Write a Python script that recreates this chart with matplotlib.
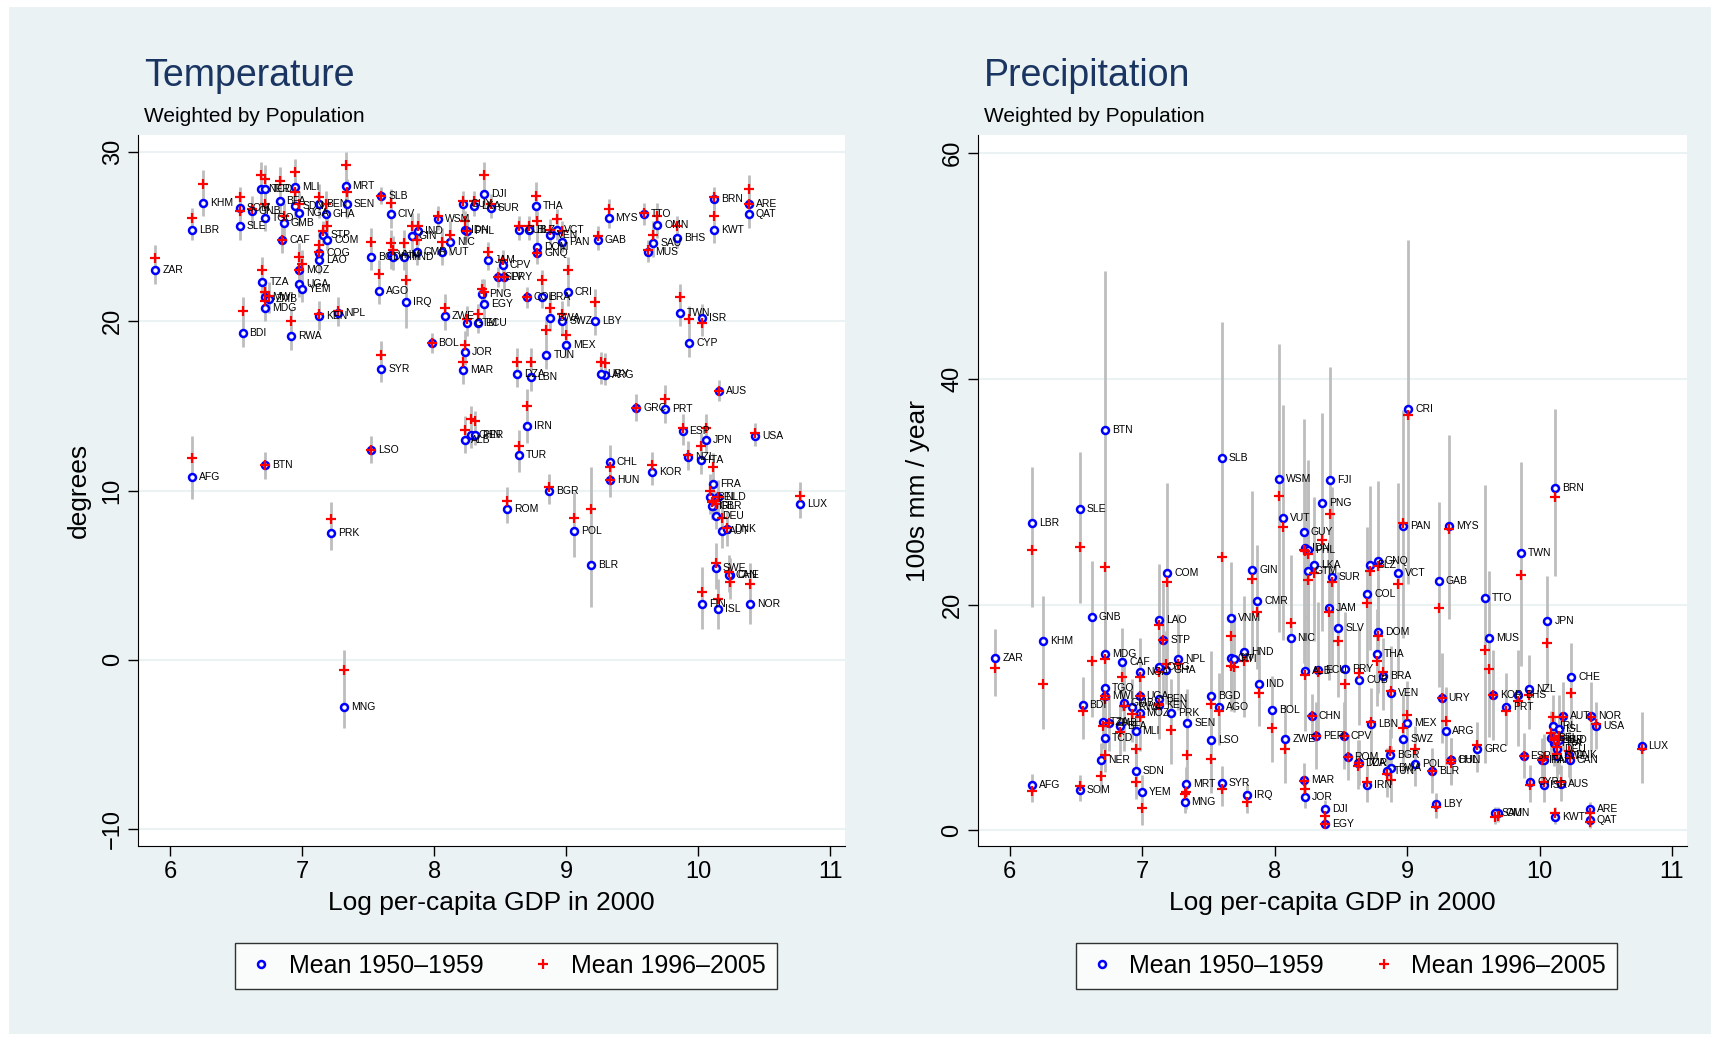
import numpy as np
import matplotlib
matplotlib.use("Agg")
import matplotlib.pyplot as plt
from matplotlib.lines import Line2D

plt.rcParams["font.family"] = ["Liberation Sans", "DejaVu Sans"]

nan = np.nan
codes = ["ZAR","LBR","AFG","KHM","SLE","SOM","BDI","GNB","NER","TCD",
 "TZA","MWI","ZMB","MDG","TGO","BTN","RWA","BFA","MLI","GMB",
 "CAF","MOZ","UGA","YEM","SDN","NGA","BEN","GHA","STP","COM",
 "COG","LAO","KEN","NPL","PRK","MRT","SEN","MNG","LSO","SLB",
 "CIV","AGO","SYR","BGD","VNM","HTI","HND","IRQ","GIN","IND",
 "CMR","ZWE","BOL","WSM","NIC","VUT","JOR","MAR","GTM","ECU",
 "PNG","EGY","IDN","PHL","GUY","LKA","SUR","DJI","JAM","CPV",
 "SLV","PRY","ALB","CHN","PER","DZA","LBN","TUR","IRN","ROM",
 "COL","BRA","CRI","BWA","SWZ","LBY","MEX","TUN","BGR","POL",
 "BLR","THA","CUB","BLZ","DOM","GNQ","VEN","VCT","PAN","GAB",
 "MYS","TTO","OMN","SAU","MUS","BHS","ARG","URY","CHL","HUN",
 "GRC","PRT","KOR","ESP","NZL","ITA","JPN","TWN","ISR","CYP",
 "AUS","USA","FRA","BEL","NLD","CHE","GBR","IRL","DEU","AUT",
 "DNK","SWE","FIN","ISL","CAN","NOR","LUX","BRN","KWT","ARE",
 "QAT","FJI"]
gdp = [5.89,6.17,6.17,6.25,6.53,6.53,6.55,6.62,6.69,6.72,
 6.70,6.72,6.75,6.72,6.72,6.72,6.92,6.83,6.95,6.86,
 6.85,6.98,6.98,7.00,6.95,6.98,7.13,7.18,7.16,7.19,
 7.13,7.13,7.13,7.27,7.22,7.33,7.34,7.32,7.52,7.60,
 7.67,7.58,7.60,7.52,7.67,7.69,7.77,7.79,7.83,7.88,
 7.87,8.08,7.98,8.03,8.12,8.06,8.23,8.22,8.25,8.33,
 8.36,8.38,8.23,8.25,8.22,8.30,8.43,8.38,8.41,8.52,
 8.48,8.53,8.23,8.28,8.31,8.63,8.73,8.64,8.70,8.55,
 8.70,8.82,9.01,8.88,8.97,9.22,9.00,8.85,8.87,9.06,
 9.19,8.77,8.64,8.72,8.78,8.78,8.88,8.93,8.97,9.24,
 9.32,9.59,9.69,9.66,9.62,9.84,9.29,9.26,9.33,9.33,
 9.53,9.75,9.65,9.88,9.92,10.02,10.06,9.86,10.03,9.93,
 10.16,10.43,10.11,10.09,10.15,10.24,10.11,10.10,10.13,10.18,
 10.22,10.13,10.03,10.15,10.23,10.39,10.77,10.12,10.12,10.38,
 10.38,8.42]
temp_1950s = [23.0,25.4,10.8,27.0,25.6,26.7,19.3,26.5,27.8,27.8,
 22.3,21.4,21.3,20.8,26.1,11.5,19.1,27.1,27.9,25.8,
 24.8,23.0,22.2,21.9,26.8,26.4,26.9,26.3,25.1,24.8,
 24.0,23.6,20.3,20.5,7.5,28.0,26.9,-2.8,12.4,27.4,
 26.3,21.8,17.2,23.8,23.9,23.8,23.8,21.1,25.0,25.3,
 24.1,20.3,18.7,26.0,24.7,24.1,18.2,17.1,19.9,19.9,
 21.6,21.0,25.4,25.3,26.9,26.8,26.7,27.5,23.6,23.3,
 22.6,22.6,13.0,13.3,13.3,16.9,16.7,12.1,13.8,8.9,
 21.4,21.4,21.7,20.2,20.0,20.0,18.6,18.0,10.0,7.6,
 5.6,26.8,25.4,25.4,24.4,24.0,25.1,25.4,24.7,24.8,
 26.1,26.3,25.7,24.6,24.1,24.9,16.8,16.9,11.7,10.6,
 14.9,14.8,11.1,13.5,12.0,11.8,13.0,20.5,20.2,18.7,
 15.9,13.2,10.4,9.6,9.6,5.0,9.1,9.1,8.5,7.6,
 7.7,5.4,3.3,3.0,5.0,3.3,9.2,27.2,25.4,26.9,
 26.3,nan]
temp_1996_2005 = [23.7,26.1,11.9,28.1,26.5,27.3,20.6,26.6,28.6,28.4,
 23.0,21.7,21.5,21.2,26.9,11.5,20.0,28.3,28.8,26.2,
 24.8,23.8,23.0,23.4,27.6,26.9,27.3,26.9,25.3,25.6,
 24.5,24.1,20.4,20.6,8.3,29.2,27.6,-0.6,12.4,27.4,
 27.0,22.8,18.0,24.7,24.6,24.2,24.6,22.4,25.6,25.6,
 24.8,20.8,18.7,26.2,25.1,24.7,18.6,17.6,20.1,20.4,
 21.9,21.7,25.9,25.3,27.1,27.1,26.9,28.6,24.1,23.6,
 22.6,22.6,13.6,14.2,14.1,17.6,17.6,12.6,15.0,9.4,
 21.4,22.4,23.0,20.8,20.4,21.1,19.2,19.5,10.2,8.4,
 8.9,27.4,25.6,25.6,25.9,24.0,25.4,26.0,25.3,25.0,
 26.6,26.4,26.2,25.1,24.2,25.6,17.5,17.6,11.4,10.6,
 14.9,15.4,11.5,13.7,12.1,12.6,13.7,21.4,19.9,20.1,
 15.9,13.4,11.4,10.0,9.6,4.6,9.4,9.3,9.2,8.4,
 7.8,5.7,4.0,3.6,5.2,4.5,9.7,27.3,26.2,27.8,
 26.9,nan]
temp_spread = [0.8,0.6,1.3,0.8,0.8,0.6,0.8,0.8,0.8,0.8,
 0.8,0.8,0.8,0.8,0.8,0.8,0.8,0.8,0.8,0.8,
 0.8,0.8,0.8,0.8,0.8,0.8,0.8,0.8,0.6,0.6,
 0.8,0.8,0.8,0.8,1.0,0.8,0.8,1.2,0.8,0.5,
 0.8,0.8,0.8,0.8,0.8,0.8,0.8,1.5,0.8,0.8,
 0.8,0.8,0.6,0.6,0.8,0.8,0.8,0.8,0.8,0.6,
 0.6,0.8,0.6,0.6,0.6,0.6,0.6,0.8,0.6,0.6,
 0.6,0.8,0.8,0.8,0.6,0.8,0.8,1.0,1.0,0.8,
 0.6,0.6,0.8,0.8,0.8,0.8,0.8,0.8,0.8,1.5,
 2.5,0.8,0.6,0.6,0.6,0.6,0.6,0.6,0.6,0.6,
 0.6,0.6,0.8,0.8,0.6,0.6,0.6,0.6,1.0,1.0,
 0.8,0.8,0.8,0.8,0.8,0.8,0.8,0.8,0.8,0.8,
 0.6,0.6,0.8,1.0,1.0,1.0,0.8,0.8,0.8,1.0,
 1.0,1.2,1.5,1.2,1.0,1.2,0.8,0.6,0.8,0.8,
 0.8,0.0]
prec_1950s = [15.3,27.2,4.0,16.8,28.5,3.6,11.1,18.9,6.2,8.2,
 9.6,11.9,9.5,15.6,12.6,35.5,10.9,9.2,8.8,11.3,
 14.9,10.4,11.9,3.4,5.3,14.0,11.6,14.2,16.9,22.8,
 14.5,18.6,11.1,15.2,10.4,4.1,9.5,2.5,8.0,33.0,
 15.3,10.9,4.2,11.9,18.8,15.2,15.8,3.1,23.1,13.0,
 20.3,8.1,10.7,31.1,17.0,27.7,3.0,4.5,23.0,14.2,
 29.0,0.6,25.0,24.8,26.4,23.5,22.4,1.9,19.7,8.4,
 17.9,14.3,14.1,10.1,8.4,6.0,9.4,6.0,4.0,6.5,
 20.9,13.7,37.3,5.5,8.1,2.3,9.5,5.3,6.7,5.9,
 5.3,15.6,13.3,23.5,17.6,23.9,12.2,22.8,27.0,22.1,
 27.0,20.6,1.5,1.5,17.0,12.0,8.8,11.7,6.2,6.2,
 7.2,10.9,12.0,6.6,12.5,6.2,18.5,24.6,4.0,4.3,
 4.1,9.2,7.7,8.2,8.0,13.6,8.0,9.2,7.2,10.1,
 6.7,6.6,6.2,9.0,6.2,10.1,7.5,30.3,1.2,1.9,
 0.9,31.0]
prec_1996_2005 = [14.4,24.8,3.5,13.0,25.1,3.9,10.6,15.0,4.8,6.7,
 9.2,11.9,9.5,15.2,11.6,23.3,10.3,8.7,7.2,11.0,
 13.6,10.0,11.9,2.0,4.3,13.6,11.2,14.7,16.9,22.0,
 14.0,18.2,11.1,14.7,8.9,3.4,6.7,3.2,6.3,24.2,
 14.6,10.6,3.7,11.2,17.2,14.5,15.0,2.5,22.3,12.2,
 19.3,7.2,9.1,29.6,18.4,26.9,3.7,4.4,22.2,14.0,
 25.7,0.6,24.7,24.5,24.8,22.8,22.0,1.3,19.3,8.4,
 16.8,13.0,13.8,10.1,8.4,5.7,9.6,6.0,4.3,6.5,
 20.1,14.0,36.8,4.5,9.1,2.1,10.2,5.0,7.0,7.2,
 5.3,15.0,13.9,23.0,17.2,23.4,12.3,21.8,27.2,19.7,
 26.7,16.0,1.3,1.2,14.3,11.5,9.7,11.7,6.0,6.2,
 7.6,10.6,12.0,6.6,12.0,6.2,16.6,22.6,4.3,4.0,
 4.3,9.4,8.0,8.6,8.4,12.2,8.2,10.0,7.4,10.0,
 7.0,6.8,6.5,8.0,6.4,10.0,7.2,29.5,1.5,1.5,
 0.7,28.0]
prec_spread = [2.5,5,1,4,5,1,2.5,5,1.5,1.5,
 2,3,2.5,3,3,14,2.5,2,2,4,
 3,3,2.5,1.5,1.5,3,3,3,5,8,
 4,5,3,4,3,1.5,3,1,3,12,
 4,3,1.5,4,5,4,5,1,7,3,
 5,3,3,12,6,10,1,1.5,8,6,
 8,0.3,6,8,10,6,8,0.8,6,3,
 5,5,5,2,3,2,3,2,1.5,2,
 6,3,15,2,3,1,3,2,2,2,
 2,4,4,7,5,7,4,8,10,7,
 8,10,0.6,0.6,6,4,3,4,2,2,
 2,3,4,2,3,2,4,8,1.5,1.5,
 1.5,2,2,2,2,3,2,2,2,3,
 2,2,2,3,2,3,3,7,0.6,0.6,
 0.5,10]

gdp = np.array(gdp); t50 = np.array(temp_1950s); t00 = np.array(temp_1996_2005)
tsp = np.array(temp_spread); p50 = np.array(prec_1950s); p00 = np.array(prec_1996_2005)
psp = np.array(prec_spread)

BG = "#eaf2f3"
NAVY = "#1a3561"
fig = plt.figure(figsize=(17.28, 10.37), dpi=100, facecolor="white")
fig.patches.append(plt.Rectangle((0.005, 0.003), 0.985, 0.99, transform=fig.transFigure,
                                 facecolor=BG, edgecolor="none", zorder=-10))

def panel(rect, v50, v00, sp, title, ylabel, ylim, yticks, yticklabels):
    ax = fig.add_axes(rect)
    ax.set_facecolor("white")
    ok = ~np.isnan(v50)
    lo = np.minimum(v50, v00) - sp
    hi = np.maximum(v50, v00) + sp
    ax.vlines(gdp[ok], lo[ok], hi[ok], color="#bdbdbd", lw=2.0, zorder=1)
    ax.plot(gdp[ok], v50[ok], "o", ms=5, mfc="white", mec="#0000ff", mew=1.8, zorder=3, linestyle="none")
    ax.plot(gdp[ok], v00[ok], "+", ms=7, color="#ff0000", mew=1.6, zorder=4, linestyle="none")
    for c, x, y in zip(np.array(codes)[ok], gdp[ok], v50[ok]):
        ax.annotate(c, (x, y), xytext=(5, 0), textcoords="offset points", va="center",
                    fontsize=7.5, color="black", zorder=5)
    ax.set_xlim(5.76, 11.11)
    ax.set_ylim(*ylim)
    ax.set_xticks([6, 7, 8, 9, 10, 11])
    ax.set_yticks(yticks)
    ax.set_yticklabels(yticklabels, rotation=90, va="center")
    ax.grid(axis="y", color=BG, lw=1.5)
    ax.set_axisbelow(True)
    for s in ("top", "right"):
        ax.spines[s].set_visible(False)
    ax.tick_params(labelsize=17, length=7, width=1)
    ax.set_xlabel("Log per-capita GDP in 2000", fontsize=19, labelpad=6)
    ax.set_ylabel(ylabel, fontsize=19, labelpad=8)
    ax.text(0.008, 1.058, title, transform=ax.transAxes, fontsize=27, color=NAVY, ha="left", va="bottom")
    ax.text(0.008, 1.012, "Weighted by Population", transform=ax.transAxes, fontsize=15, ha="left", va="bottom")
    h = [Line2D([], [], marker="o", ls="none", ms=5, mfc="white", mec="#0000ff", mew=1.8),
         Line2D([], [], marker="+", ls="none", ms=7, color="#ff0000", mew=1.6)]
    leg = ax.legend(h, ["Mean 1950\u20131959", "Mean 1996\u20132005"], loc="upper center",
                    bbox_to_anchor=(0.52, -0.118), ncol=2, fontsize=18, frameon=True,
                    fancybox=False, edgecolor="black", columnspacing=1.8, handletextpad=0.5,
                    borderpad=0.45, handlelength=1.2)
    leg.get_frame().set_linewidth(1.0)
    return ax

panel([0.080, 0.184, 0.409, 0.686], t50, t00, tsp, "Temperature", "degrees",
      (-11.0, 31.0), [-10, 0, 10, 20, 30], ["\u221210", "0", "10", "20", "30"])
panel([0.566, 0.184, 0.410, 0.686], p50, p00, psp, "Precipitation", "100s mm / year",
      (-1.4, 61.6), [0, 20, 40, 60], ["0", "20", "40", "60"])

fig.savefig("out.png", dpi=100, facecolor="white")
